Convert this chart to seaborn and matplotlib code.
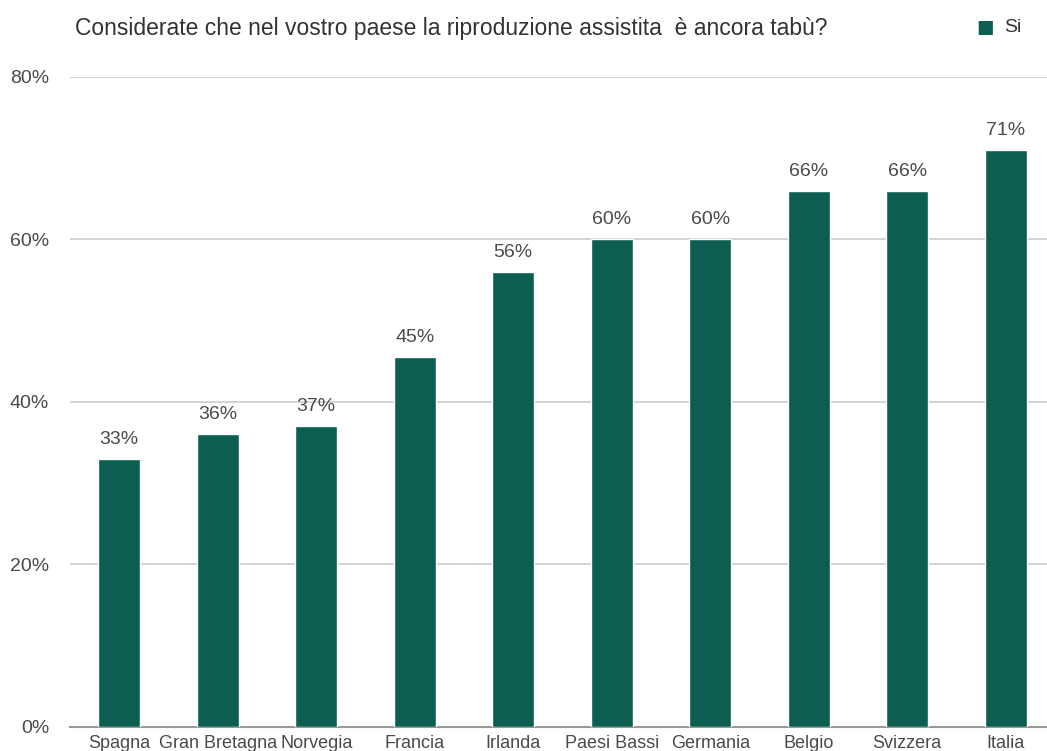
import numpy as np
import pandas as pd
import matplotlib.pyplot as plt
import seaborn as sns

# survey data
paesi = ['Spagna', 'Gran Bretagna', 'Norvegia', 'Francia', 'Irlanda',
         'Paesi Bassi', 'Germania', 'Belgio', 'Svizzera', 'Italia']
si = [33, 36, 37, 45.5, 56, 60, 60, 66, 66, 71]
etichette = ['33%', '36%', '37%', '45%', '56%', '60%', '60%', '66%', '66%', '71%']

verde = '#0b5e50'
grigio_testo = '#4a4a4a'

sns.set_style('white')
plt.rcParams['font.family'] = ['Liberation Sans', 'DejaVu Sans']

df = pd.DataFrame({'paese': paesi, 'si': si})

fig = plt.figure(figsize=(10.47, 7.51), dpi=100)
ax = fig.add_axes([70 / 1047, 0.032, 985 / 1047, 0.8655])

sns.barplot(data=df, x='paese', y='si', color=verde, width=0.43,
            saturation=1, ax=ax, zorder=3)

ax.set_ylim(0, 80)
ax.set_xlim(-0.5, 9.5)
ax.set_yticks([0, 20, 40, 60, 80])
ax.set_yticklabels(['0%', '20%', '40%', '60%', '80%'])
ax.yaxis.grid(True, color='#cccccc', linewidth=1.2, zorder=0)
ax.set_xlabel('')
ax.set_ylabel('')
ax.tick_params(axis='y', length=0, labelsize=14, colors=grigio_testo, pad=15)
# the reference cuts the country names at the bottom edge as well
ax.tick_params(axis='x', length=0, labelsize=13, colors=grigio_testo, pad=6)
sns.despine(ax=ax, left=True, right=True, top=True)
ax.spines['bottom'].set_color('#999999')
ax.spines['bottom'].set_linewidth(1.5)

for p, lab in zip(ax.patches, etichette):
    ax.annotate(lab, (p.get_x() + p.get_width() / 2, p.get_height()),
                xytext=(0, 8), textcoords='offset points', ha='center',
                va='bottom', fontsize=14, color=grigio_testo)

fig.text(75 / 1047, 1 - 28 / 751, 'Considerate che nel vostro paese la riproduzione assistita  è ancora tabù?',
         fontsize=16.5, color='#333333', va='center', ha='left')
fig.text(985 / 1047, 1 - 29 / 751, '■', fontsize=21, color=verde, va='center', ha='center')
fig.text(1004 / 1047, 1 - 28 / 751, 'Si', fontsize=14, color='#333333', va='center', ha='left')

fig.savefig('out.png', dpi=100)
